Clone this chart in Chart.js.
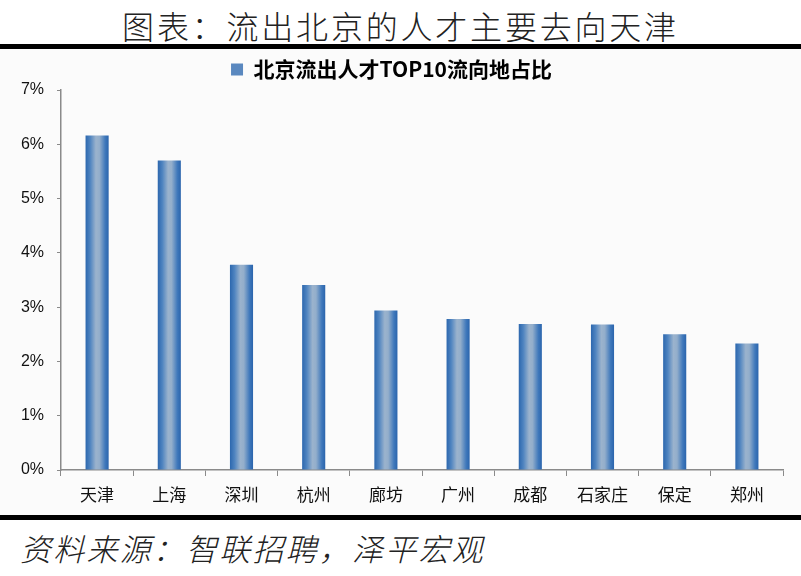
<!DOCTYPE html>
<html>
<head>
<meta charset="utf-8">
<script src="https://cdn.jsdelivr.net/npm/chart.js@4.4.0/dist/chart.umd.min.js"></script>
<style>
  html, body { margin: 0; padding: 0; background: #ffffff; }
  .page { position: relative; width: 801px; height: 576px; overflow: hidden; }
  .title {
    position: absolute; left: 0; top: 5px; width: 801px; text-align: center;
    font-family: "Noto Sans CJK SC"; font-weight: 300; font-size: 32px; letter-spacing: 2.8px;
    color: #222; line-height: 40px;
  }
  .rule { position: absolute; left: 0; width: 801px; height: 5px; background: #000; }
  .graph { position: absolute; left: 0; top: 49px; width: 801px; height: 466px; background: #fbfbfb; }
  .source {
    position: absolute; left: 20px; top: 528px;
    font-family: "Noto Sans CJK SC"; font-weight: 300; font-style: italic; font-size: 31px;
    color: #222; line-height: 40px; letter-spacing: 2.2px;
  }
</style>
</head>
<body>
<div class="page">
  <div class="title">图表：流出北京的人才主要去向天津</div>
  <div class="rule" style="top:44px"></div>
  <div class="graph"><canvas id="chart"></canvas></div>
  <div class="rule" style="top:515px"></div>
  <div class="source">资料来源：智联招聘，泽平宏观</div>
</div>
<script>
"use strict";

// 北京流出人才TOP10流向地
const cities = ['天津', '上海', '深圳', '杭州', '廊坊', '广州', '成都', '石家庄', '保定', '郑州'];
const shares = [6.16, 5.70, 3.78, 3.41, 2.94, 2.78, 2.69, 2.68, 2.50, 2.33]; // 占比 %
const seriesName = '北京流出人才TOP10流向地占比';

const barPct = 0.32;

function barGradient(context) {
    const chart = context.chart;
    const xScale = chart.scales.x;
    if (!chart.chartArea || !xScale) return '#4f80bb';
    const x = xScale.getPixelForValue(context.dataIndex);
    const w = xScale.width / cities.length * barPct;
    const g = chart.ctx.createLinearGradient(x - w / 2, 0, x + w / 2, 0);
    g.addColorStop(0, '#2c67ae');
    g.addColorStop(0.2, '#4f84c0');
    g.addColorStop(0.45, '#9bb3cd');
    g.addColorStop(0.6, '#93aecb');
    g.addColorStop(0.85, '#3f78bb');
    g.addColorStop(1, '#2a64ac');
    return g;
}

const ctx = document.getElementById('chart').getContext('2d');
new Chart(ctx, {
    type: 'bar',
    data: {
        labels: cities,
        datasets: [{
            label: seriesName,
            data: shares,
            backgroundColor: barGradient,
            borderWidth: 0,
            barPercentage: barPct,
            categoryPercentage: 1
        }]
    },
    options: {
        responsive: true,
        maintainAspectRatio: false,
        animation: false,
        layout: { padding: { top: 3, right: 18, left: 0, bottom: 0 } },
        plugins: {
            tooltip: { enabled: false },
            legend: {
                display: true,
                labels: {
                    font: { family: '"Noto Sans CJK SC"', size: 21, weight: 'bold' },
                    color: '#111',
                    boxWidth: 12,
                    boxHeight: 12,
                    padding: 7,
                    generateLabels: function (chart) {
                        return [{
                            text: seriesName,
                            fillStyle: '#5a88bf',
                            strokeStyle: '#5a88bf',
                            lineWidth: 0,
                            datasetIndex: 0
                        }];
                    }
                }
            }
        },
        scales: {
            x: {
                offset: true,
                grid: { drawOnChartArea: false, color: '#8a8a8a', tickLength: 6, offset: true },
                border: { color: '#8a8a8a', width: 1.5 },
                ticks: {
                    font: { family: '"Noto Sans CJK SC"', size: 17 },
                    color: '#111',
                    padding: 8,
                    maxRotation: 0
                },
                afterFit: function (scale) { scale.height = 45; }
            },
            y: {
                min: 0,
                max: 7,
                ticks: {
                    stepSize: 1,
                    font: { family: '"Liberation Sans"', size: 16 },
                    color: '#111',
                    padding: 13,
                    callback: function (v) { return v + '%'; }
                },
                grid: { drawOnChartArea: false, color: '#8a8a8a', tickLength: 4 },
                border: { color: '#8a8a8a', width: 1.5 },
                afterFit: function (scale) { scale.width = 61; }
            }
        }
    }
});
</script>
</body>
</html>
